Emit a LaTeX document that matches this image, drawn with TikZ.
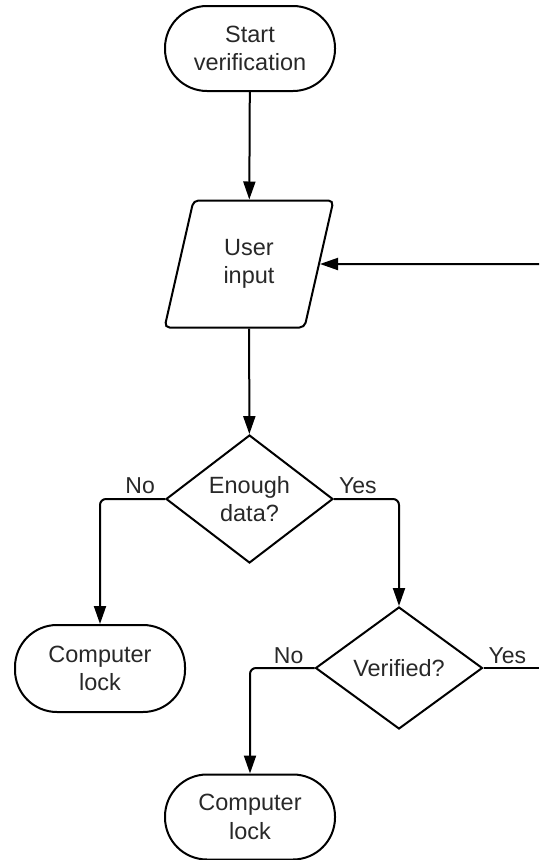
\documentclass[tikz,border=0pt]{standalone}
\usepackage{fontspec}
\setmainfont{Liberation Sans}
\usetikzlibrary{shapes.geometric,arrows.meta}
\definecolor{txt}{RGB}{40,40,40}
\begin{document}
\begin{tikzpicture}[x=1pt,y=-1pt,
  base/.style={draw=black, line width=2pt, text=txt, font=\fontsize{23.5}{28.5}\selectfont, align=center, inner sep=0pt},
  term/.style={base, rectangle, rounded corners=42pt, minimum width=170pt, minimum height=85pt},
  io/.style={base, trapezium, trapezium left angle=75, trapezium right angle=105, trapezium stretches=true, rounded corners=5pt, minimum width=169pt, minimum height=127pt},
  dec/.style={base, diamond, minimum width=167pt, minimum height=128pt},
  lbl/.style={text=txt, font=\fontsize{23}{26}\selectfont, inner sep=0pt},
  arr/.style={line width=2pt, -{Triangle[length=18pt,width=12pt]}},
  conn/.style={line width=2pt}
]
\useasboundingbox (0,0) rectangle (539,860);
\node[term] (start) at (250,48.5) {Start\\verification};
\node[io] (input) at (249,264) {User\\input};
\node[dec] (d1) at (249.5,499) {Enough\\data?};
\node[dec, minimum height=122pt] (d2) at (399,668) {Verified?};
\node[term, minimum height=87pt] (lock1) at (100,668.5) {Computer\\lock};
\node[term] (lock2) at (250,817) {Computer\\lock};
\coordinate (loopin) at (539,264);
\coordinate (yesout) at (539,668);

\draw[arr] (start) -- (input);
\draw[arr] (loopin) -- (input);
\draw[arr] (input) -- (d1);
\draw[arr, rounded corners=6pt] (d1.west) -| (lock1.north);
\draw[arr, rounded corners=6pt] (d1.east) -| (d2.north);
\draw[arr, rounded corners=6pt] (d2.west) -| (lock2.north);
\draw[conn] (d2.east) -- (yesout);

\node[lbl, anchor=base east] (no1) at ([xshift=-10pt,yshift=6pt]d1.west) {No};
\node[lbl, anchor=base west] (yes1) at ([xshift=5pt,yshift=6pt]d1.east) {Yes};
\node[lbl, anchor=base east] (no2) at ([xshift=-11pt,yshift=5pt]d2.west) {No};
\node[lbl, anchor=base west] (yes2) at ([xshift=5pt,yshift=5pt]d2.east) {Yes};
\end{tikzpicture}
\end{document}
